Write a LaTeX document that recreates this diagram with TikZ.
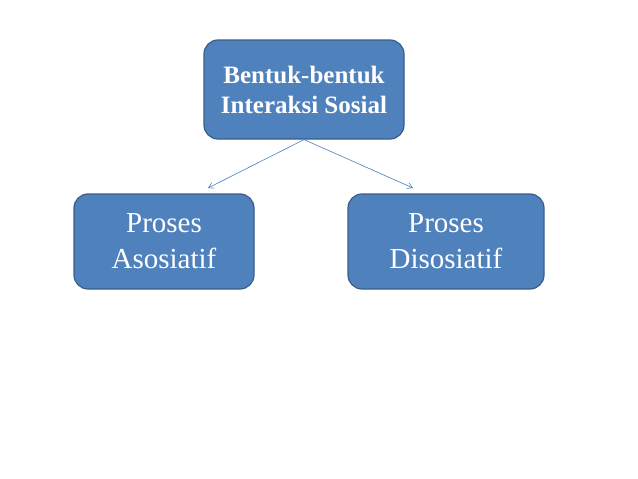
\documentclass[tikz,border=0pt]{standalone}
\usepackage{fontspec}
\setmainfont{Liberation Serif}
\usetikzlibrary{arrows.meta}
\definecolor{boxfill}{HTML}{4F81BD}
\definecolor{boxline}{HTML}{385D8A}
\definecolor{arrowline}{HTML}{4A7EBB}
\begin{document}
\begin{tikzpicture}[x=1pt,y=1pt,
    kotak/.style={draw=boxline,fill=boxfill,line width=1.2pt,rounded corners=14pt,
                  text=white,align=center,inner sep=0pt},
    panah/.style={draw=arrowline,line width=0.6pt,-{Straight Barb[length=5pt,width=6pt]}}]
\useasboundingbox (0,0) rectangle (638,-479);
\node[kotak,minimum width=200pt,minimum height=99pt,font=\fontsize{25}{30}\selectfont\bfseries]
  (induk) at (304,-89.5) {Bentuk-bentuk\\Interaksi Sosial};
\node[kotak,minimum width=180pt,minimum height=95pt,font=\fontsize{29}{36}\selectfont]
  (asosiatif) at (164,-241.5) {Proses\\Asosiatif};
\node[kotak,minimum width=196pt,minimum height=95pt,font=\fontsize{29}{36}\selectfont]
  (disosiatif) at (446,-241.5) {Proses\\Disosiatif};
\coordinate (ujungkiri)  at (208,-188);
\coordinate (ujungkanan) at (413,-188);
\draw[panah] (induk.south) -- (ujungkiri);
\draw[panah] (induk.south) -- (ujungkanan);
\end{tikzpicture}
\end{document}
